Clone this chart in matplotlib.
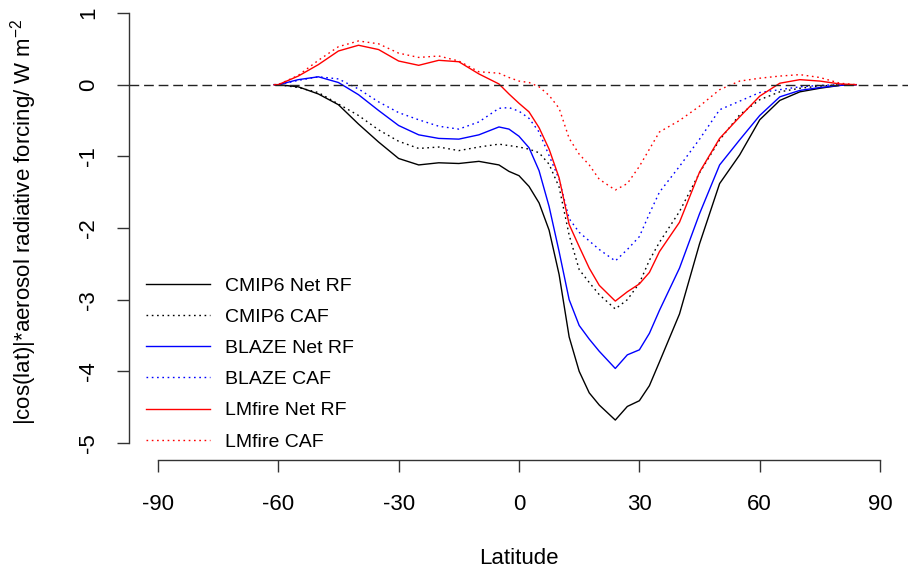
import matplotlib
matplotlib.use("Agg")
import matplotlib.pyplot as plt

plt.rcParams["font.family"] = ["Liberation Sans", "DejaVu Sans"]
plt.rcParams["mathtext.fontset"] = "custom"
plt.rcParams["mathtext.rm"] = "Liberation Sans"
plt.rcParams["mathtext.it"] = "Liberation Sans:italic"

# latitude grid (degrees) shared by all series
lat = [-61, -60, -55, -50, -45, -40, -35, -30, -25, -20, -15, -10, -5, -2.5, 0,
       2.5, 5, 7.5, 10, 12.5, 15, 17.5, 20, 24, 27, 30, 32.5, 35, 40, 45, 50,
       55, 60, 65, 70, 75, 80, 84]

cmip6_net = [0, 0, -0.03, -0.13, -0.28, -0.55, -0.8, -1.03, -1.12, -1.09, -1.1, -1.07,
             -1.12, -1.21, -1.27, -1.42, -1.65, -2.03, -2.65, -3.52, -4.0, -4.3, -4.47,
             -4.68, -4.49, -4.41, -4.2, -3.87, -3.2, -2.22, -1.38, -0.98, -0.49, -0.22,
             -0.1, -0.05, -0.01, 0]
cmip6_caf = [0, 0, -0.04, -0.11, -0.27, -0.43, -0.63, -0.79, -0.89, -0.87, -0.92, -0.87,
             -0.83, -0.85, -0.87, -0.9, -0.95, -1.11, -1.43, -2.1, -2.58, -2.76, -2.93,
             -3.13, -3.0, -2.77, -2.45, -2.2, -1.77, -1.23, -0.77, -0.42, -0.21, -0.1,
             -0.05, -0.02, 0, 0]
blaze_net = [0, 0, 0.07, 0.11, 0.03, -0.14, -0.36, -0.57, -0.7, -0.75, -0.76, -0.7,
             -0.59, -0.62, -0.72, -0.88, -1.2, -1.7, -2.33, -3.0, -3.36, -3.55, -3.72,
             -3.96, -3.77, -3.7, -3.47, -3.15, -2.56, -1.8, -1.12, -0.77, -0.43, -0.17,
             -0.08, -0.04, -0.01, 0]
blaze_caf = [0, 0, 0.06, 0.11, 0.08, -0.06, -0.24, -0.39, -0.49, -0.58, -0.62, -0.52,
             -0.33, -0.32, -0.37, -0.47, -0.66, -0.99, -1.32, -1.87, -2.06, -2.18, -2.3,
             -2.46, -2.3, -2.12, -1.8, -1.5, -1.14, -0.76, -0.35, -0.23, -0.11, -0.07,
             -0.03, -0.01, 0, 0]
lmfire_net = [0, 0, 0.12, 0.28, 0.47, 0.55, 0.49, 0.33, 0.27, 0.34, 0.32, 0.15,
              0.01, -0.13, -0.26, -0.38, -0.6, -0.9, -1.3, -1.95, -2.26, -2.56, -2.8,
              -3.02, -2.89, -2.78, -2.62, -2.33, -1.92, -1.22, -0.75, -0.45, -0.16, 0.02,
              0.07, 0.05, 0.01, 0]
lmfire_caf = [0, 0, 0.13, 0.34, 0.53, 0.61, 0.57, 0.44, 0.38, 0.4, 0.33, 0.18,
              0.16, 0.1, 0.05, 0.03, -0.03, -0.15, -0.33, -0.75, -0.97, -1.12, -1.32,
              -1.47, -1.38, -1.14, -0.9, -0.66, -0.5, -0.3, -0.07, 0.05, 0.09, 0.12,
              0.14, 0.1, 0.02, 0]

labels = ["CMIP6 Net RF", "CMIP6 CAF", "BLAZE Net RF", "BLAZE CAF",
          "LMfire Net RF", "LMfire CAF"]
xticks = [-90, -60, -30, 0, 30, 60, 90]
yticks = [-5, -4, -3, -2, -1, 0, 1]

W, H = 908, 572
fig = plt.figure(figsize=(W / 100, H / 100), dpi=100)
# R-like plot region (4% axis extension), top slightly beyond the image
ax = fig.add_axes([129 / W, (H - 460.2) / H, 780 / W, 464.4 / H])

dot = (1.2, 2.6)
series = [cmip6_net, cmip6_caf, blaze_net, blaze_caf, lmfire_net, lmfire_caf]
colors = ["black", "black", "blue", "blue", "red", "red"]
for i, (vals, col, lab) in enumerate(zip(series, colors, labels)):
    ln, = ax.plot(lat, vals, color=col, lw=1.0, label=lab)
    if i % 2 == 1:
        ln.set_dashes(dot)
ax.axhline(0, color="#222222", lw=1.0, dashes=(7, 3.5))

ax.set_xlim(-97.2, 97.2)
ax.set_ylim(-5.24, 1.24)
ax.set_xticks(xticks)
ax.set_yticks(yticks)
ax.set_xticklabels([str(v) for v in xticks])
ax.set_yticklabels([str(v) for v in yticks])
for s in ["top", "right"]:
    ax.spines[s].set_visible(False)
ax.spines["left"].set_bounds(-5, 1)
ax.spines["bottom"].set_bounds(-90, 90)
for s in ["left", "bottom"]:
    ax.spines[s].set_color("#333333")
    ax.spines[s].set_linewidth(1.0)
ax.tick_params(length=8.5, width=1.0, color="#333333", labelsize=16, pad=16)
ax.tick_params(axis="y", pad=13)
for t in ax.get_yticklabels():
    t.set_rotation(90)
    t.set_va("center")
    t.set_ha("right")

fig.text(519 / W, 1 - 558 / H, "Latitude", fontsize=16, ha="center", va="center")
fig.text(24 / W, 1 - 222 / H,
         r"|cos(lat)|*aerosol radiative forcing/ W m$^{-2}$",
         fontsize=16, rotation=90, ha="center", va="center")

ax.legend(loc="upper left", bbox_to_anchor=(146 / W, 1 - 277 / H),
          bbox_transform=fig.transFigure, frameon=False, fontsize=14,
          handlelength=3.3, handletextpad=0.75, labelspacing=0.7,
          borderpad=0, borderaxespad=0)

fig.savefig("out.png", dpi=100)
